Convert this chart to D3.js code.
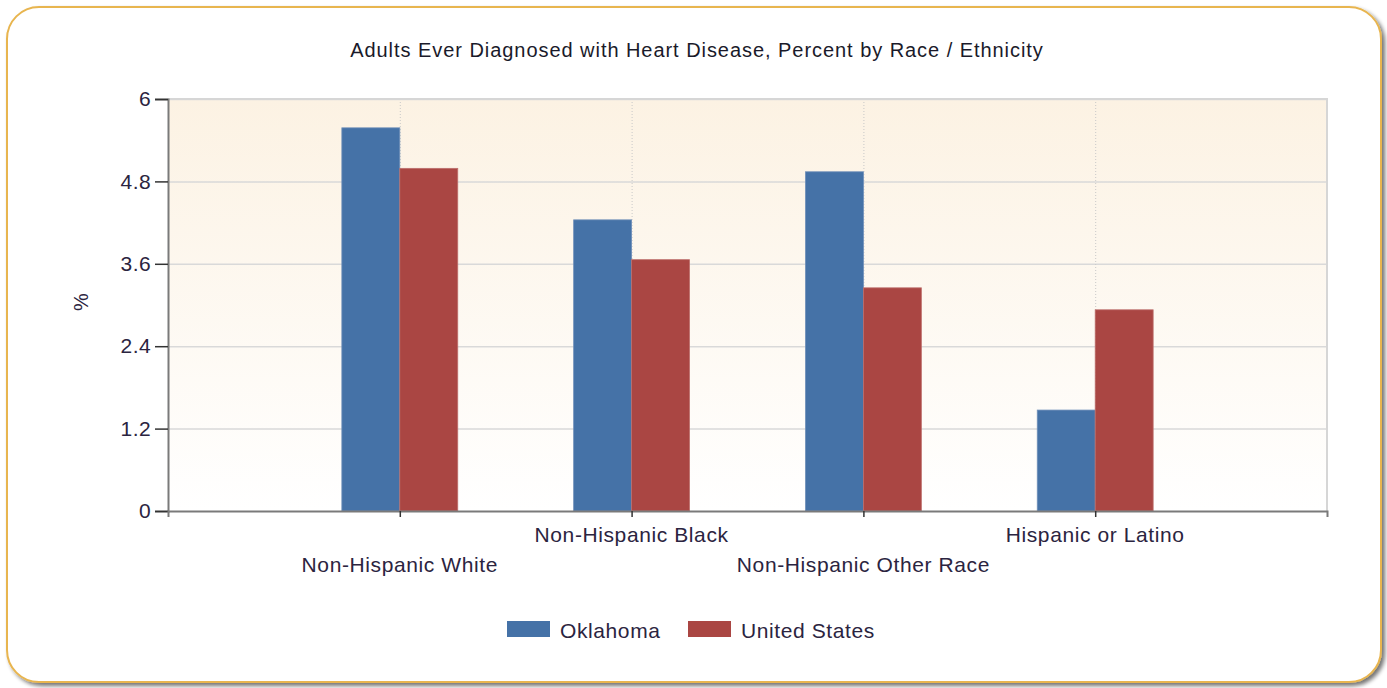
<!DOCTYPE html>
<html>
<head>
<meta charset="utf-8">
<script src="https://cdn.jsdelivr.net/npm/d3@7"></script>
<style>
  html, body { margin: 0; padding: 0; background: #ffffff; }
  svg { display: block; }
</style>
</head>
<body>
<svg id="chart" width="1387" height="688"></svg>
<script>
const title = "Adults Ever Diagnosed with Heart Disease, Percent by Race / Ethnicity";
const categories = ["Non-Hispanic White", "Non-Hispanic Black", "Non-Hispanic Other Race", "Hispanic or Latino"];
const seriesNames = ["Oklahoma", "United States"];
const oklahoma = [5.58, 4.24, 4.94, 1.47];
const unitedStates = [4.99, 3.66, 3.25, 2.93];
const yTicks = [0, 1.2, 2.4, 3.6, 4.8, 6];
const yLabel = "%";
const colors = ["#4572a7", "#aa4643"];

const svg = d3.select("#chart");
const plot = { left: 168, right: 1327, top: 99, bottom: 511 };
const textColor = "#2b2440";
const font = "'Liberation Sans', Arial, sans-serif";

// defs
const defs = svg.append("defs");
const grad = defs.append("linearGradient").attr("id", "bg").attr("x1", 0).attr("y1", 0).attr("x2", 0).attr("y2", 1);
grad.append("stop").attr("offset", "0%").attr("stop-color", "#fcf2e3");
grad.append("stop").attr("offset", "100%").attr("stop-color", "#ffffff");
const sh = defs.append("filter").attr("id", "shadow").attr("x", "-5%").attr("y", "-5%").attr("width", "110%").attr("height", "110%");
sh.append("feGaussianBlur").attr("in", "SourceAlpha").attr("stdDeviation", 2);
sh.append("feOffset").attr("dx", 3).attr("dy", 3).attr("result", "ob");
sh.append("feComponentTransfer").append("feFuncA").attr("type", "linear").attr("slope", 0.55);
const m = sh.append("feMerge");
m.append("feMergeNode");
m.append("feMergeNode").attr("in", "SourceGraphic");

// outer frame
svg.append("rect")
  .attr("x", 7).attr("y", 7).attr("width", 1374).attr("height", 675)
  .attr("rx", 32).attr("ry", 32)
  .attr("fill", "#ffffff").attr("stroke", "#e8b54f").attr("stroke-width", 2)
  .attr("filter", "url(#shadow)");

// scales
const x = d3.scalePoint().domain(categories).range([plot.left, plot.right]).padding(1);
const y = d3.scaleLinear().domain([0, 6]).range([plot.bottom, plot.top]);
const groupW = x.step() / 2;
const xs = d3.scaleBand().domain(seriesNames).range([-groupW / 2, groupW / 2]).padding(0);

// plot background
svg.append("rect")
  .attr("x", plot.left).attr("y", plot.top)
  .attr("width", plot.right - plot.left).attr("height", plot.bottom - plot.top)
  .attr("fill", "url(#bg)");

// horizontal grid
svg.append("g").selectAll("line").data(yTicks.filter(d => d > 0)).join("line")
  .attr("x1", plot.left).attr("x2", plot.right)
  .attr("y1", d => y(d) + 0.5).attr("y2", d => y(d) + 0.5)
  .attr("stroke", "#d9d9d9").attr("stroke-width", 1.5);

// vertical dotted grid
svg.append("g").selectAll("line").data(categories).join("line")
  .attr("x1", d => x(d) + 0.5).attr("x2", d => x(d) + 0.5)
  .attr("y1", plot.top).attr("y2", plot.bottom)
  .attr("stroke", "#c8c8c8").attr("stroke-width", 1).attr("stroke-dasharray", "1,2");

// plot border (top/right)
svg.append("path")
  .attr("d", `M${plot.left},${plot.top}H${plot.right}V${plot.bottom}`)
  .attr("fill", "none").attr("stroke", "#d6d6d6").attr("stroke-width", 2);

// bars
const seriesData = [oklahoma, unitedStates];
seriesData.forEach((vals, si) => {
  svg.append("g").selectAll("rect").data(vals).join("rect")
    .attr("x", (d, i) => x(categories[i]) + xs(seriesNames[si]))
    .attr("width", xs.bandwidth())
    .attr("y", d => y(d))
    .attr("height", d => y(0) - y(d))
    .attr("fill", colors[si])
    .attr("stroke", si === 0 ? "#6f8fb9" : "#bd6f6c").attr("stroke-width", 0.8);
});

// y axis
const yAxis = svg.append("g").attr("transform", `translate(${plot.left},0)`)
  .call(d3.axisLeft(y).tickValues(yTicks).tickFormat(d => String(d)).tickSize(13).tickPadding(4));
yAxis.selectAll("path").attr("stroke", "#7a7a7a").attr("stroke-width", 2);
yAxis.selectAll(".tick line").attr("stroke", "#333").attr("stroke-width", 1.5);
yAxis.selectAll("text").attr("font-family", font).attr("font-size", 21)
  .attr("letter-spacing", 0.4).attr("fill", textColor);

// x axis
const xAxis = svg.append("g").attr("transform", `translate(0,${plot.bottom})`)
  .call(d3.axisBottom(x).tickSizeInner(6).tickSizeOuter(6).tickFormat(""));
xAxis.selectAll("path").attr("stroke", "#7a7a7a").attr("stroke-width", 2);
xAxis.selectAll(".tick line").attr("stroke", "#333").attr("stroke-width", 1.5);

// staggered x labels
svg.append("g").selectAll("text").data(categories).join("text")
  .attr("x", d => x(d))
  .attr("y", (d, i) => i % 2 === 0 ? 572 : 542)
  .attr("text-anchor", "middle")
  .attr("font-family", font).attr("font-size", 21).attr("letter-spacing", 0.6).attr("fill", textColor)
  .text(d => d);

// y label
svg.append("text")
  .attr("transform", "translate(88,302) rotate(-90)")
  .attr("text-anchor", "middle")
  .attr("font-family", font).attr("font-size", 20).attr("fill", textColor)
  .text(yLabel);

// title
svg.append("text")
  .attr("x", 697).attr("y", 57)
  .attr("text-anchor", "middle")
  .attr("font-family", font).attr("font-size", 20).attr("letter-spacing", 0.95).attr("fill", "#1a1a2a")
  .text(title);

// legend
const legend = svg.append("g");
const legendX = [507, 688];
seriesNames.forEach((s, i) => {
  legend.append("rect").attr("x", legendX[i]).attr("y", 621).attr("width", 43).attr("height", 16).attr("fill", colors[i]);
  legend.append("text").attr("x", legendX[i] + 53).attr("y", 638)
    .attr("font-family", font).attr("font-size", 21).attr("letter-spacing", 0.6).attr("fill", textColor).text(s);
});
</script>
</body>
</html>
